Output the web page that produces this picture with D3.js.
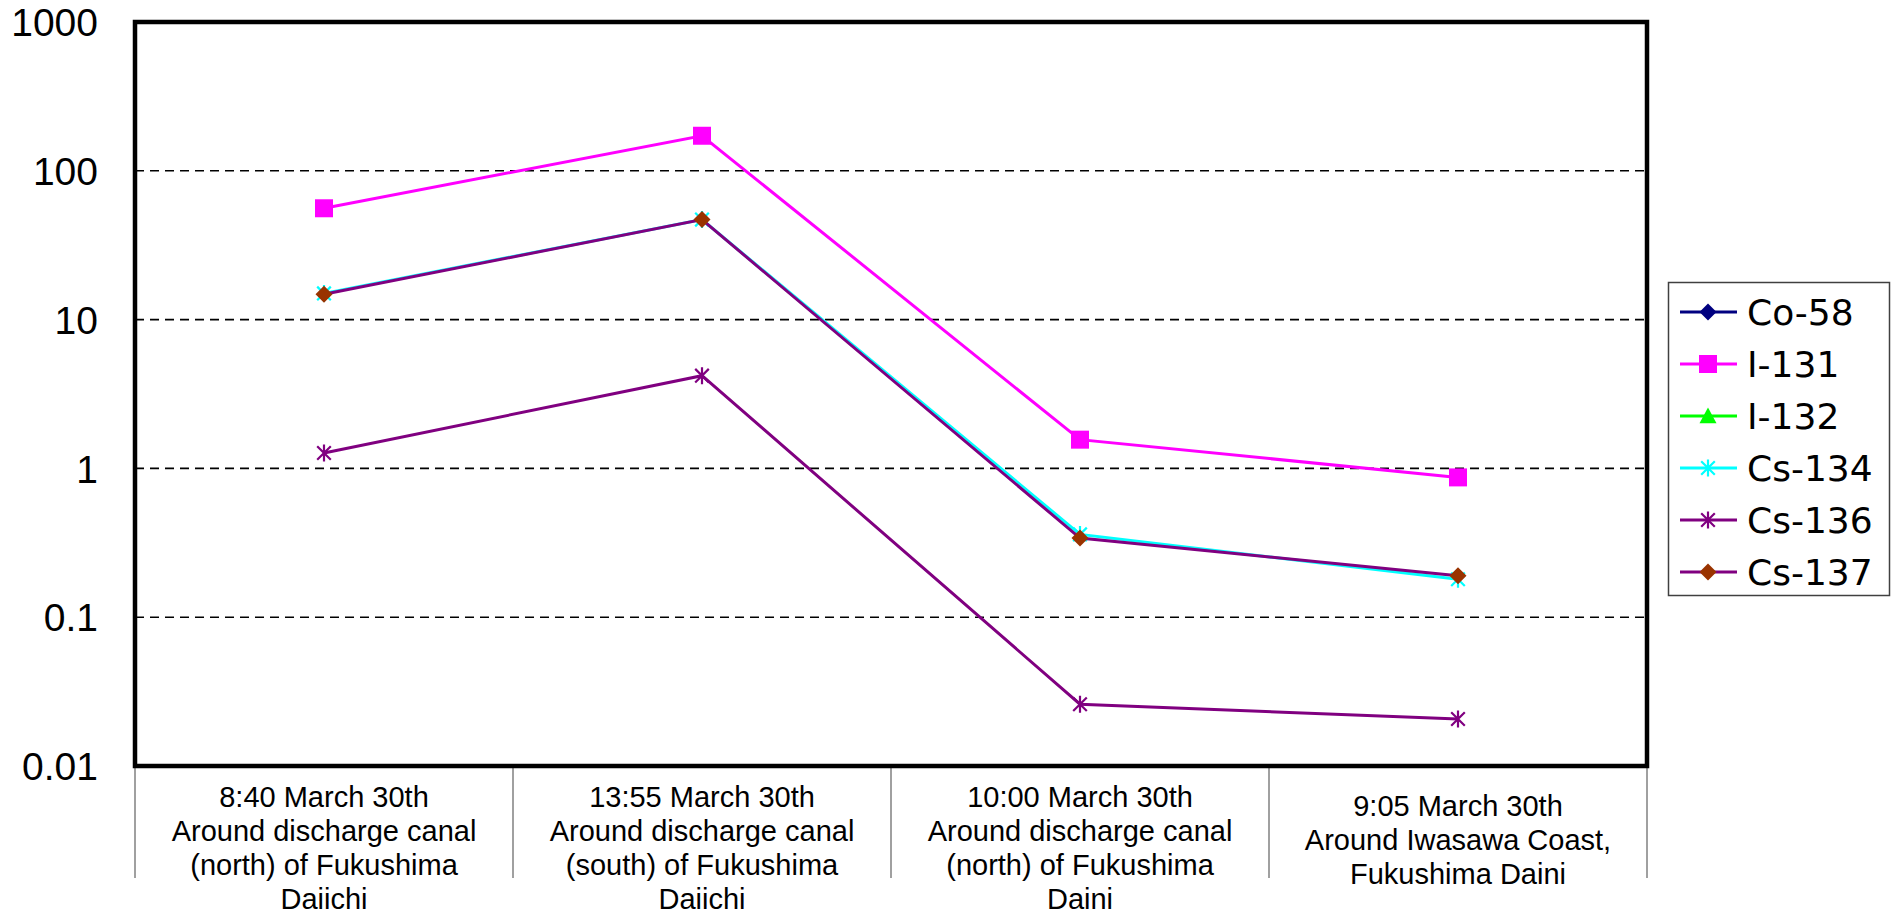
<!DOCTYPE html>
<html><head><meta charset="utf-8">
<script src="https://cdn.jsdelivr.net/npm/d3@7"></script>
<style>
html,body{margin:0;padding:0;background:#fff;}
svg{display:block;}
</style>
</head><body>
<svg id="chart" width="1899" height="917"></svg>
<script>
// ---- data ----
const categories = [
  ["8:40 March 30th","Around discharge canal","(north) of Fukushima","Daiichi"],
  ["13:55 March 30th","Around discharge canal","(south) of Fukushima","Daiichi"],
  ["10:00 March 30th","Around discharge canal","(north) of Fukushima","Daini"],
  ["9:05 March 30th","Around Iwasawa Coast,","Fukushima Daini"]
];
const seriesNames = ["Co-58","I-131","I-132","Cs-134","Cs-136","Cs-137"];
const co58  = [null, null, null, null];
const i131  = [56, 172, 1.56, 0.87];
const i132  = [null, null, null, null];
const cs134 = [15, 47, 0.36, 0.18];
const cs136 = [1.27, 4.2, 0.026, 0.0207];
const cs137 = [14.8, 47, 0.34, 0.19];
const yTickValues = [0.01, 0.1, 1, 10, 100, 1000];
const yTickLabels = ["0.01", "0.1", "1", "10", "100", "1000"];

const seriesValues = [co58, i131, i132, cs134, cs136, cs137];
const lineColors   = ["#000080", "#FF00FF", "#00FF00", "#00FFFF", "#800080", "#800080"];
const markerColors = ["#000080", "#FF00FF", "#00FF00", "#00FFFF", "#800080", "#993300"];
const markerTypes  = ["diamond", "square", "triangle", "star", "star", "diamond"];

// ---- layout ----
const L = 135, R = 1647, T = 22, B = 766;
const svg = d3.select("#chart");

const x = d3.scaleBand().domain(d3.range(categories.length)).range([L, R]).padding(0);
const xc = i => x(i) + x.bandwidth() / 2;
const y = d3.scaleLog().domain([0.01, 1000]).range([B, T]);

function markerPath(type, s) {
  const h = s / 2;
  const p = d3.path();
  if (type === "diamond") {
    p.moveTo(0, -h); p.lineTo(h, 0); p.lineTo(0, h); p.lineTo(-h, 0); p.closePath();
  } else if (type === "square") {
    p.rect(-h, -h, s, s);
  } else if (type === "triangle") {
    p.moveTo(0, -h); p.lineTo(h, h * 0.85); p.lineTo(-h, h * 0.85); p.closePath();
  } else if (type === "star") {
    const d = h * 0.8;
    p.moveTo(-d, -d); p.lineTo(d, d);
    p.moveTo(d, -d); p.lineTo(-d, d);
    p.moveTo(0, -h); p.lineTo(0, h);
  }
  return p.toString();
}
function drawMarker(g, type, color, s) {
  const path = g.append("path").attr("d", markerPath(type, s));
  if (type === "star") path.attr("fill", "none").attr("stroke", color).attr("stroke-width", 2.2);
  else path.attr("fill", color).attr("stroke", "none");
}

// gridlines
svg.append("g").selectAll("line")
  .data(yTickValues.filter(v => v > 0.01 && v < 1000))
  .join("line")
  .attr("x1", L).attr("x2", R)
  .attr("y1", d => y(d)).attr("y2", d => y(d))
  .attr("stroke", "#000").attr("stroke-width", 1.6)
  .attr("stroke-dasharray", "9,6");

// category separator ticks below axis
svg.append("g").selectAll("line")
  .data(d3.range(categories.length + 1))
  .join("line")
  .attr("x1", i => i < categories.length ? x(i) : R)
  .attr("x2", i => i < categories.length ? x(i) : R)
  .attr("y1", B).attr("y2", 878)
  .attr("stroke", "#808080").attr("stroke-width", 1.5);

// y axis labels
const yAxis = d3.axisLeft(y).tickValues(yTickValues)
  .tickFormat((d, i) => yTickLabels[i]).tickSize(0).tickPadding(0);
const ya = svg.append("g").attr("transform", `translate(98,0)`).call(yAxis);
ya.select(".domain").remove();
ya.selectAll("text")
  .attr("font-family", "'Liberation Sans', Arial, sans-serif")
  .attr("font-size", 39).attr("fill", "#000").attr("dy", "0.35em");

// category labels
const catFont = "'Liberation Sans', Arial, sans-serif";
const lineH = 34;
categories.forEach((lines, i) => {
  const t = svg.append("text")
    .attr("font-family", catFont).attr("font-size", 29)
    .attr("text-anchor", "middle").attr("fill", "#000");
  const center = 850 + (lines.length - 3) * 8;
  const start = center - (lines.length - 1) / 2 * lineH;
  lines.forEach((ln, j) => {
    t.append("tspan").attr("x", xc(i)).attr("y", start + j * lineH).text(ln);
  });
});

// series lines + markers
const line = d3.line()
  .defined(d => d != null)
  .x((d, i) => xc(i)).y(d => y(d));
seriesValues.forEach((vals, si) => {
  const g = svg.append("g");
  if (vals.some(v => v != null)) {
    g.append("path").datum(vals).attr("d", line)
      .attr("fill", "none").attr("stroke", lineColors[si]).attr("stroke-width", 3);
  }
  vals.forEach((v, i) => {
    if (v == null) return;
    const mg = g.append("g").attr("transform", `translate(${xc(i)},${y(v)})`);
    drawMarker(mg, markerTypes[si], markerColors[si], markerTypes[si] === "square" ? 18 : 17);
  });
});

// plot border
svg.append("rect").attr("x", L).attr("y", T).attr("width", R - L).attr("height", B - T)
  .attr("fill", "none").attr("stroke", "#000").attr("stroke-width", 4.5);

// legend
const lg = svg.append("g");
lg.append("rect").attr("x", 1668.5).attr("y", 282.5).attr("width", 221).attr("height", 313)
  .attr("fill", "#fff").attr("stroke", "#404040").attr("stroke-width", 1.5);
seriesNames.forEach((name, i) => {
  const yy = 312 + i * 52;
  const g = lg.append("g");
  g.append("line").attr("x1", 1680).attr("x2", 1737).attr("y1", yy).attr("y2", yy)
    .attr("stroke", lineColors[i]).attr("stroke-width", 3);
  const mg = g.append("g").attr("transform", `translate(1708,${yy})`);
  drawMarker(mg, markerTypes[i], markerColors[i], markerTypes[i] === "square" ? 18 : 17);
  g.append("text").attr("x", 1747).attr("y", yy).attr("dy", "0.36em")
    .attr("font-family", "'DejaVu Sans', sans-serif").attr("font-size", 36).attr("fill", "#000")
    .text(name);
});
</script>
</body></html>
